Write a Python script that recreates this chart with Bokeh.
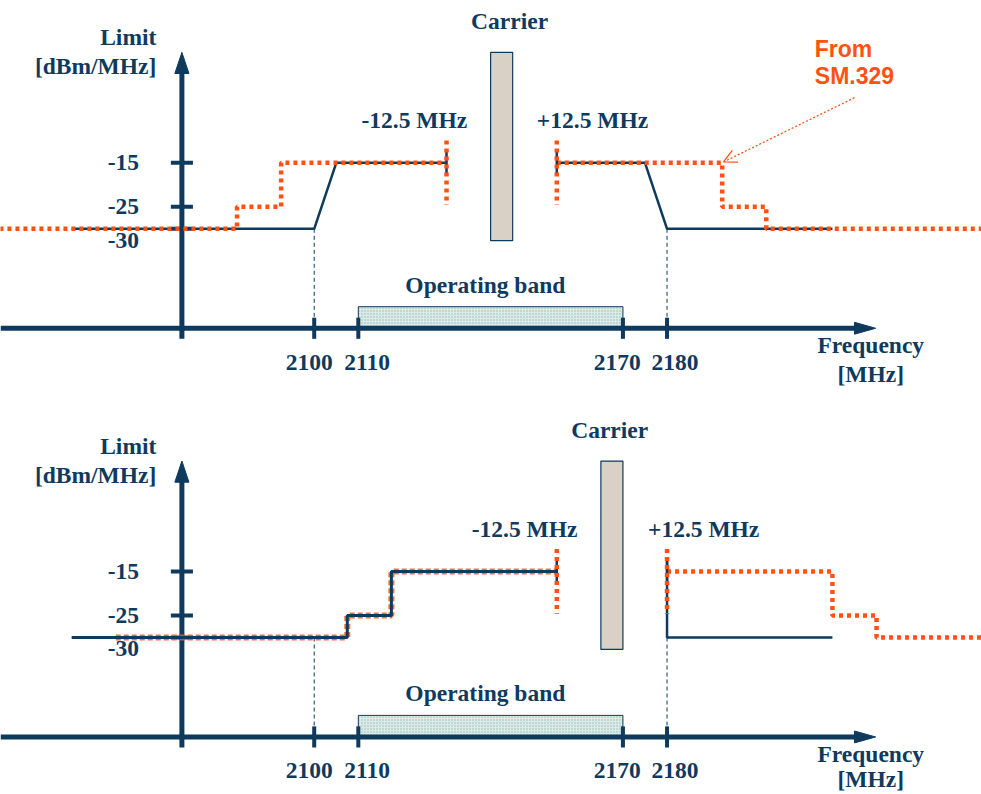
from bokeh.plotting import figure
from bokeh.models import Range1d, Arrow, OpenHead
from bokeh.layouts import column
from bokeh.core.properties import value
from bokeh.embed import file_html
from bokeh.resources import INLINE

NAVY = "#0e3a5e"
ORANGE = "#ff5212"
SERIF = "Liberation Serif"
SANS = "Liberation Sans"
FS = "23.5px"

# ---------------- data ----------------
Y_TICKS = [-15, -25, -30]
Y_TICK_LABELS = ["-15", "-25", "-30"]
X_TICKS = [2100, 2110, 2170, 2180]
X_TICK_LABELS = ["2100", "2110", "2170", "2180"]
BAND = (2110, 2170)           # operating band [MHz]
GUIDES = [2100, 2180]         # dashed guide lines

# Panel 1 (carrier centred at 2142.5 MHz)
p1_carrier = (2140, 2145)
p1_navy_left_x = [2045, 2100, 2105, 2130]
p1_navy_left_y = [-30, -30, -15, -15]
p1_navy_right_x = [2155, 2175, 2180, 2217.5]
p1_navy_right_y = [-15, -15, -30, -30]
p1_orange_left_x = [2025, 2082.5, 2082.5, 2092.5, 2092.5, 2130]
p1_orange_left_y = [-30, -30, -25, -25, -15, -15]
p1_orange_right_x = [2155, 2192.5, 2192.5, 2202.5, 2202.5, 2260]
p1_orange_right_y = [-15, -15, -25, -25, -30, -30]
p1_edges = [2130, 2155]

# Panel 2 (carrier centred at 2167.5 MHz)
p2_carrier = (2165, 2170)
p2_navy_left_x = [2045, 2107.5, 2107.5, 2117.5, 2117.5, 2155]
p2_navy_left_y = [-30, -30, -25, -25, -15, -15]
p2_navy_right_x = [2180, 2180, 2217.5]
p2_navy_right_y = [-12.5, -30, -30]
p2_orange_left_x = [2055, 2107.5, 2107.5, 2117.5, 2117.5, 2155]
p2_orange_left_y = [-30, -30, -25, -25, -15, -15]
p2_orange_right_x = [2180, 2217.5, 2217.5, 2227.5, 2227.5, 2260]
p2_orange_right_y = [-15, -15, -25, -25, -30, -30]
p2_edges = [2155, 2180]

# ---------------- geometry ----------------
X0, X1 = 2028.87, 2251.3
AX_Y = -52.6          # level of frequency axis
AX_X = 2070           # position of limit axis
W = 981


def text(p, x, y, s, align="center", font=SERIF, color=NAVY, size=FS):
    p.text(x=[x], y=[y], text=[s], text_align=align, text_baseline="middle",
           text_font=value(font), text_font_style="bold", text_font_size=size,
           text_color=color)


def panel(height, ytop, carrier, nlx, nly, nrx, nry, olx, oly, orx, ory,
          edges, carrier_lbl_x, minus_lbl_x, plus_lbl_x, thin_orange,
          mhz_y):
    p = figure(width=W, height=height, x_range=Range1d(X0, X1),
               y_range=Range1d(ytop - height / 4.4, ytop), output_backend="svg",
               toolbar_location=None, min_border=0, x_axis_location=None,
               y_axis_location=None, outline_line_color=None)
    p.xgrid.visible = False
    p.ygrid.visible = False
    p.background_fill_color = "white"

    # operating band
    p.quad(left=[BAND[0]], right=[BAND[1]], bottom=[AX_Y], top=[-47.7],
           fill_color="#dcebe8", hatch_pattern="dot", hatch_color="#8fb9b4",
           hatch_scale=3, line_color=NAVY, line_width=1)
    # carrier
    p.quad(left=[carrier[0]], right=[carrier[1]], bottom=[-32.7], top=[10.1],
           fill_color="#d9d1c5", line_color=NAVY, line_width=1.2)

    # dashed guides
    for g in GUIDES:
        p.line([g, g], [-30, AX_Y], line_color=NAVY, line_width=1,
               line_dash="4 3")

    # axes
    p.line([X0, 2223], [AX_Y, AX_Y], line_color=NAVY, line_width=5)
    p.patch([2222.5, 2227.3, 2222.5], [AX_Y + 1.35, AX_Y, AX_Y - 1.35],
            fill_color=NAVY, line_color=NAVY)
    p.line([AX_X, AX_X], [-55, 5.8], line_color=NAVY, line_width=5)
    p.patch([AX_X - 1.6, AX_X, AX_X + 1.6], [5.3, 10.1, 5.3],
            fill_color=NAVY, line_color=NAVY)
    for t in Y_TICKS:
        p.line([AX_X - 2.5, AX_X + 2.5], [t, t], line_color=NAVY, line_width=4)
    for t in X_TICKS:
        p.line([t, t], [-50.2, -55], line_color=NAVY, line_width=4)

    # tick labels
    for t, s in zip(Y_TICKS, Y_TICK_LABELS):
        text(p, 2060.3, t - (2.6 if t == -30 else 0), s, align="right")
    for t, s, off in zip(X_TICKS, X_TICK_LABELS, [-1.1, 2.0, -1.3, 1.8]):
        text(p, t + off, -60.3, s)

    # axis titles
    text(p, 2064.2, 13.6, "Limit", align="right")
    text(p, 2064.2, 6.9, "[dBm/MHz]", align="right")
    text(p, 2226.2, -56.5, "Frequency")
    text(p, 2226.2, mhz_y, "[MHz]")

    # limits
    if thin_orange:
        p.line(olx, oly, line_color=ORANGE, line_width=6, line_dash="5 3",
               line_alpha=0.85)
        p.line(nlx, nly, line_color=NAVY, line_width=3)
    else:
        p.line(nlx, nly, line_color=NAVY, line_width=2.5)
        p.line(olx, oly, line_color=ORANGE, line_width=4.5, line_dash="4 4")
    p.line(nrx, nry, line_color=NAVY, line_width=2.5)
    p.line(orx, ory, line_color=ORANGE, line_width=4.5, line_dash="4 4")
    for e in edges:
        p.line([e, e], [-12.5, -17.5], line_color=NAVY, line_width=2.5)
        p.line([e, e], [-9.9, -24.6], line_color=ORANGE, line_width=4.5,
               line_dash="4 4")

    # labels
    text(p, carrier_lbl_x, 17.2, "Carrier")
    text(p, minus_lbl_x, -5.3, "-12.5 MHz")
    text(p, plus_lbl_x, -5.3, "+12.5 MHz")
    text(p, 2138.8, -42.7, "Operating band")
    return p


p1 = panel(409, 21.89, p1_carrier, p1_navy_left_x, p1_navy_left_y,
           p1_navy_right_x, p1_navy_right_y, p1_orange_left_x,
           p1_orange_left_y, p1_orange_right_x, p1_orange_right_y,
           p1_edges, 2144.3, 2122.7, 2163.1, False, -63.0)
text(p1, 2213.5, 10.8, "From", align="left", font=SANS, color=ORANGE,
     size="23px")
text(p1, 2213.5, 4.8, "SM.329", align="left", font=SANS, color=ORANGE,
     size="23px")
p1.add_layout(Arrow(end=OpenHead(size=13, line_color=ORANGE, line_width=1.3),
                    x_start=2222.5, y_start=-0.2, x_end=2192.8, y_end=-14.8,
                    line_color=ORANGE, line_width=1.3, line_dash="2 2"))

p2 = panel(385, 21.82, p2_carrier, p2_navy_left_x, p2_navy_left_y,
           p2_navy_right_x, p2_navy_right_y, p2_orange_left_x,
           p2_orange_left_y, p2_orange_right_x, p2_orange_right_y,
           p2_edges, 2167.0, 2147.7, 2188.3, True, -62.2)

layout = column(p1, p2, spacing=0)
open("out.html", "w").write(file_html(layout, INLINE))
